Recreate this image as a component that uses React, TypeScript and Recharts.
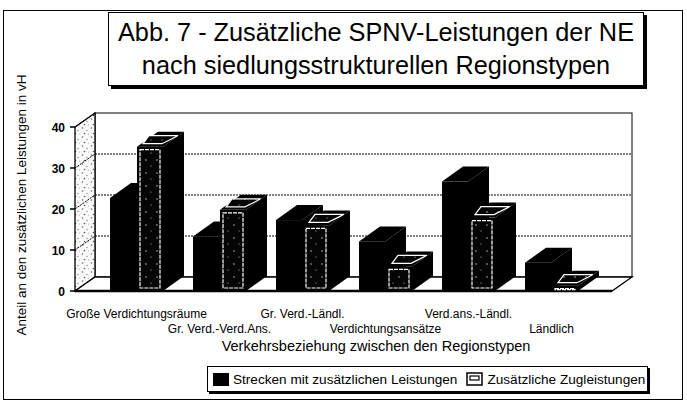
import { BarChart, Bar, XAxis, YAxis, ReferenceArea } from "recharts";

const categories = [
  "Große Verdichtungsräume",
  "Gr. Verd.-Verd.Ans.",
  "Gr. Verd.-Ländl.",
  "Verdichtungsansätze",
  "Verd.ans.-Ländl.",
  "Ländlich",
];
const strecken = [22.7, 13.3, 17.3, 12.1, 26.7, 6.9];
const zugleistungen = [35.2, 19.8, 16.0, 6.0, 17.9, 1.3];
const yTicks = [0, 10, 20, 30, 40];
const gridValues = [10, 20, 30];
const seriesNames = ["Strecken mit zusätzlichen Leistungen", "Zusätzliche Zugleistungen"];

const data = categories.map((name, i) => ({
  name,
  strecken: strecken[i],
  zug: zugleistungen[i],
}));

const FONT = "'Liberation Sans', Arial, Helvetica, sans-serif";

// depth of the bars and of the floor / walls
const DX = 21;
const DY = -15;
const WX = 20;
const WY = -14;

const SolidBar = (p: any) => {
  const { x, y, width: w, height: h } = p;
  if (w == null || h == null) return null;
  return (
    <g>
      <polygon
        points={`${x},${y} ${x + DX},${y + DY} ${x + w + DX},${y + DY} ${x + w},${y}`}
        fill="#000"
      />
      <polygon
        points={`${x + w},${y} ${x + w + DX},${y + DY} ${x + w + DX},${y + h + DY} ${x + w},${y + h}`}
        fill="#000"
      />
      <rect x={x} y={y} width={w} height={h} fill="#000" />
    </g>
  );
};

const HollowBar = (p: any) => {
  const { x, y, width: w, height: h } = p;
  if (w == null || h == null) return null;
  const i = 3;
  return (
    <g>
      <polygon
        points={`${x},${y} ${x + DX},${y + DY} ${x + w + DX},${y + DY} ${x + w},${y}`}
        fill="#000"
      />
      <polygon
        points={`${x + 6},${y - 3} ${x + 12},${y + DY + 4} ${x + w + DX - 6},${y + DY + 4} ${x + w - 1},${y - 3}`}
        fill="url(#speck)"
        stroke="#fff"
        strokeWidth={1.2}
      />
      <polygon
        points={`${x + w},${y} ${x + w + DX},${y + DY} ${x + w + DX},${y + h + DY} ${x + w},${y + h}`}
        fill="#000"
      />
      <rect x={x} y={y} width={w} height={h} fill="#000" />
      <rect
        x={x + i}
        y={y + i}
        width={Math.max(w - 2 * i, 1)}
        height={Math.max(h - 2 * i, 1)}
        fill="url(#speck)"
        stroke="#fff"
        strokeWidth={1.2}
        strokeDasharray="4 1"
      />
    </g>
  );
};

const Room = (p: any) => {
  const { x, y, width: w, height: h } = p;
  const frontL = x - 20;
  const frontR = x + w + 19;
  const backL = frontL + WX;
  const backR = frontR + WX;
  const bottom = y + h;
  const ys = (v: number) => y + h * (1 - v / 40);
  return (
    <g>
      <defs>
        <pattern id="stipple" width="9" height="9" patternUnits="userSpaceOnUse">
          <rect width="9" height="9" fill="#fafafa" />
          <circle cx="1.5" cy="2" r="0.8" fill="#666" />
          <circle cx="6" cy="4.5" r="0.7" fill="#888" />
          <circle cx="3.5" cy="7.5" r="0.8" fill="#555" />
          <circle cx="7.5" cy="8" r="0.5" fill="#999" />
        </pattern>
        <pattern id="speck" width="11" height="13" patternUnits="userSpaceOnUse">
          <rect width="11" height="13" fill="#050505" />
          <circle cx="3" cy="4" r="0.7" fill="#ddd" />
          <circle cx="8" cy="10" r="0.6" fill="#bbb" />
        </pattern>
      </defs>
      <rect
        x={backL}
        y={y + WY}
        width={backR - backL}
        height={h}
        fill="#fff"
        stroke="#000"
        strokeWidth={1}
      />
      {gridValues.map((v) => (
        <line
          key={v}
          x1={backL}
          x2={backR}
          y1={ys(v) + WY}
          y2={ys(v) + WY}
          stroke="#000"
          strokeWidth={1}
          strokeDasharray="2 1"
        />
      ))}
      <polygon
        points={`${frontL},${bottom} ${frontL},${y} ${backL},${y + WY} ${backL},${bottom + WY}`}
        fill="url(#stipple)"
        stroke="#000"
        strokeWidth={1.3}
      />
      {yTicks.map((v) => (
        <line
          key={v}
          x1={frontL}
          y1={ys(v)}
          x2={backL}
          y2={ys(v) + WY}
          stroke="#000"
          strokeWidth={1}
          strokeDasharray="2 1"
        />
      ))}
      <polygon
        points={`${frontL},${bottom} ${frontR},${bottom} ${backR},${bottom + WY} ${backL},${bottom + WY}`}
        fill="#fff"
        stroke="#000"
        strokeWidth={1.3}
      />
      <line x1={frontL} x2={frontR} y1={bottom} y2={bottom} stroke="#000" strokeWidth={2.5} />
    </g>
  );
};

const YTick = (p: any) => {
  const { x, y, payload } = p;
  return (
    <g>
      <line x1={x - 25} x2={x - 20} y1={y} y2={y} stroke="#000" strokeWidth={1.5} />
      <text
        x={x - 30}
        y={y + 4.5}
        textAnchor="end"
        fontSize={12}
        fontWeight="bold"
        fontFamily={FONT}
        fill="#000"
      >
        {payload.value}
      </text>
    </g>
  );
};

const XTick = (p: any) => {
  const { x, y, payload, index } = p;
  return (
    <text
      x={x}
      y={y + (index % 2 === 0 ? 27 : 42)}
      textAnchor="middle"
      fontSize={12}
      fontFamily={FONT}
      fill="#000"
    >
      {payload.value}
    </text>
  );
};

const LegendBox = () => (
  <div
    style={{
      position: "absolute",
      left: 207,
      top: 366,
      boxSizing: "border-box",
      width: 441,
      height: 26,
      border: "1px solid #000",
      boxShadow: "2px 2px 0 #000",
      background: "#fff",
      display: "flex",
      alignItems: "center",
      paddingLeft: 5,
      fontFamily: FONT,
      fontSize: 13.6,
      color: "#000",
      whiteSpace: "nowrap",
    }}
  >
    <span style={{ display: "inline-block", width: 16, height: 13, background: "#000", marginRight: 4 }} />
    <span>{seriesNames[0]}</span>
    <svg width={17} height={14} style={{ marginLeft: 9, marginRight: 4 }}>
      <rect x={1} y={1} width={15} height={12} fill="#fff" stroke="#000" strokeWidth={1.5} />
      <rect x={4} y={4} width={9} height={4} fill="#fff" stroke="#000" strokeWidth={1.2} />
    </svg>
    <span>{seriesNames[1]}</span>
  </div>
);

export default function App() {
  return (
    <div
      style={{
        position: "absolute",
        left: 0,
        top: 0,
        width: 687,
        height: 411,
        background: "#fff",
        fontFamily: FONT,
        overflow: "hidden",
      }}
    >
      <div
        style={{
          position: "absolute",
          left: 3,
          top: 10,
          width: 680,
          height: 390,
          border: "1.5px solid #000",
          boxSizing: "border-box",
        }}
      />
      <div style={{ position: "absolute", left: 0, top: 0 }}>
        <BarChart
          width={687}
          height={411}
          data={data}
          margin={{ top: 127, right: 94, left: 55, bottom: 60 }}
          barSize={26}
          barGap={1}
        >
          <ReferenceArea y1={0} y2={40} ifOverflow="visible" shape={<Room />} />
          <XAxis
            dataKey="name"
            interval={0}
            axisLine={false}
            tickLine={false}
            tickSize={0}
            tickMargin={0}
            height={60}
            tick={<XTick />}
          />
          <YAxis
            domain={[0, 40]}
            ticks={yTicks}
            width={40}
            axisLine={false}
            tickLine={false}
            tickSize={0}
            tickMargin={0}
            tick={<YTick />}
          />
          <Bar dataKey="strecken" name={seriesNames[0]} shape={<SolidBar />} isAnimationActive={false} />
          <Bar dataKey="zug" name={seriesNames[1]} shape={<HollowBar />} isAnimationActive={false} />
        </BarChart>
      </div>
      <LegendBox />
      <div
        style={{
          position: "absolute",
          left: 108,
          top: 12,
          width: 536,
          height: 74,
          border: "1.5px solid #000",
          boxShadow: "3px 3px 0 #000",
          background: "#fff",
          boxSizing: "border-box",
          textAlign: "center",
          fontSize: 25.3,
          lineHeight: "33px",
          paddingTop: 3,
          color: "#000",
        }}
      >
        <div>Abb. 7 - Zusätzliche SPNV-Leistungen der NE</div>
        <div>nach siedlungsstrukturellen Regionstypen</div>
      </div>
      <div
        style={{
          position: "absolute",
          left: 21,
          top: 205,
          transform: "translate(-50%, -50%) rotate(-90deg)",
          fontSize: 13.5,
          whiteSpace: "nowrap",
          color: "#000",
        }}
      >
        Anteil an den zusätzlichen Leistungen in vH
      </div>
      <div
        style={{
          position: "absolute",
          left: 376,
          top: 346,
          transform: "translate(-50%, -50%)",
          fontSize: 14.5,
          whiteSpace: "nowrap",
          color: "#000",
        }}
      >
        Verkehrsbeziehung zwischen den Regionstypen
      </div>
    </div>
  );
}
